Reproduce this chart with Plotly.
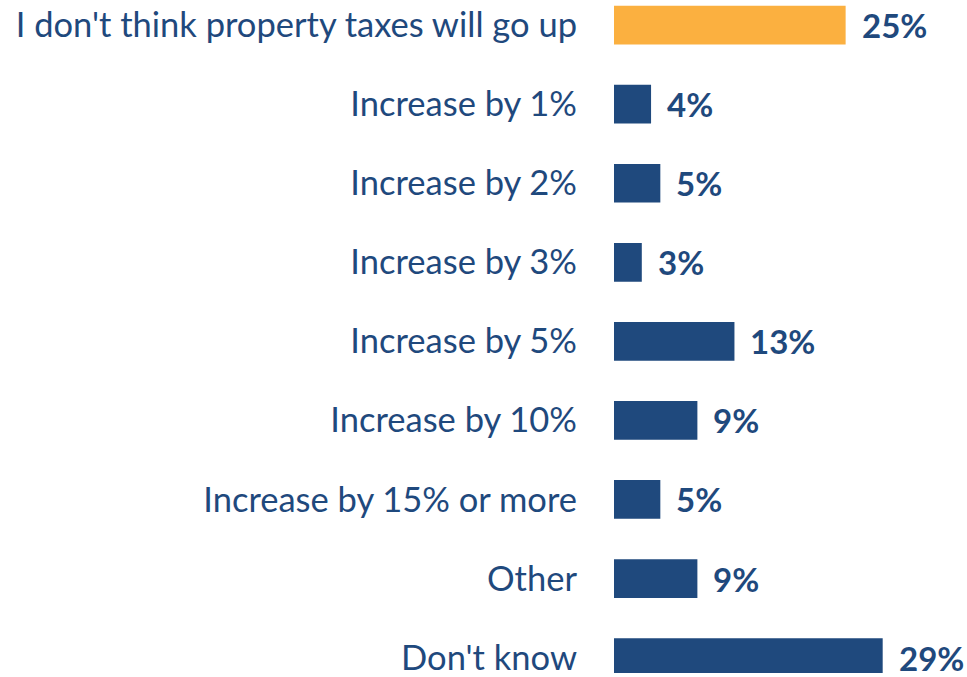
import plotly.graph_objects as go

categories = [
    "I don't think property taxes will go up",
    "Increase by 1%",
    "Increase by 2%",
    "Increase by 3%",
    "Increase by 5%",
    "Increase by 10%",
    "Increase by 15% or more",
    "Other",
    "Don't know",
]
values = [25, 4, 5, 3, 13, 9, 5, 9, 29]
value_labels = ["25%", "4%", "5%", "3%", "13%", "9%", "5%", "9%", "29%"]

BLUE = "#1F497D"
ORANGE = "#FBB040"
colors = [ORANGE] + [BLUE] * (len(values) - 1)

fig = go.Figure(
    go.Bar(
        x=values,
        y=categories,
        orientation="h",
        marker=dict(color=colors, line=dict(width=0)),
        hoverinfo="skip",
    )
)

# value labels to the right of each bar
for cat, val, lab in zip(categories, values, value_labels):
    fig.add_annotation(
        x=val, y=cat, text=lab, showarrow=False,
        xanchor="left", yanchor="middle", xshift=14, yshift=0,
        font=dict(family="Lato", size=33, color=BLUE, weight="bold"),
    )

fig.update_layout(
    width=967, height=677,
    margin=dict(l=614, r=0, t=0, b=0),
    paper_bgcolor="white", plot_bgcolor="white",
    bargap=0.51,
    showlegend=False,
    xaxis=dict(range=[0, 38.1], visible=False, fixedrange=True),
    yaxis=dict(
        type="category",
        range=[8.195, -0.318],
        showgrid=False, zeroline=False, showline=False, ticks="",
        ticklabelstandoff=36,
        tickfont=dict(family="Lato", size=34.5, color=BLUE),
        fixedrange=True,
    ),
)

fig.write_html("out.html")
